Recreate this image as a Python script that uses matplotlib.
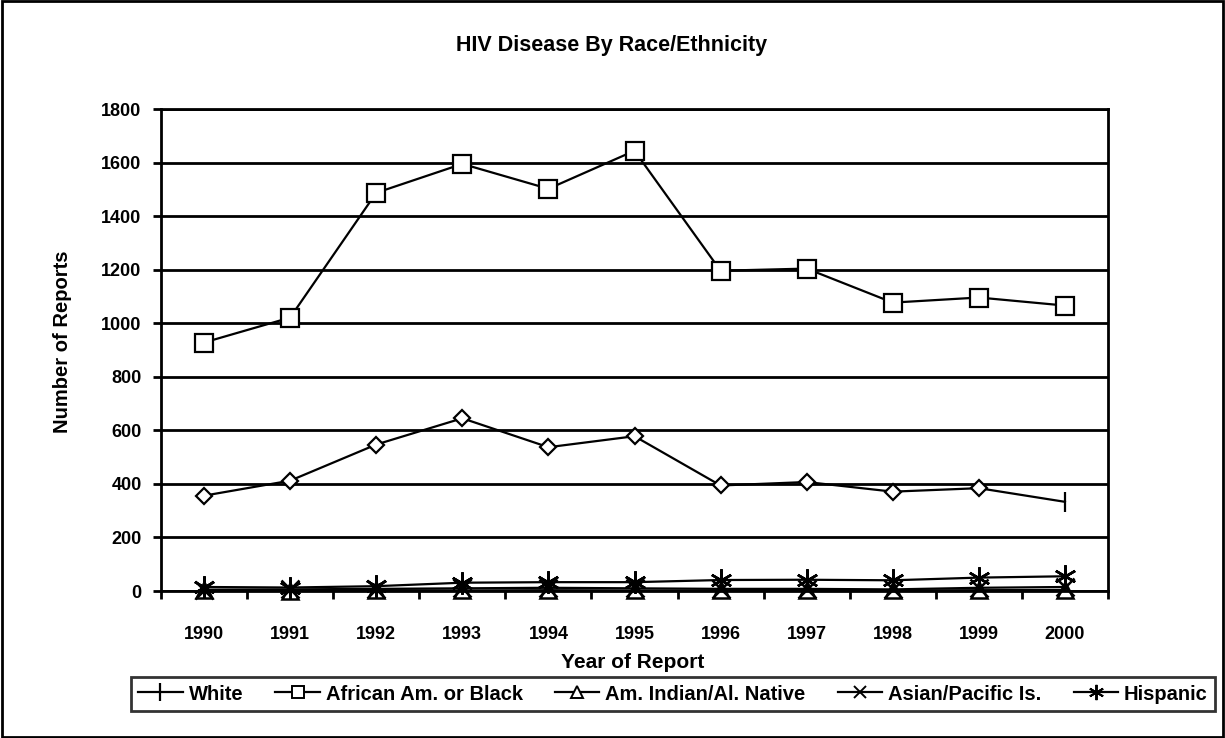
import matplotlib
matplotlib.use("Agg")
import matplotlib.pyplot as plt
from matplotlib.lines import Line2D
from matplotlib.patches import Rectangle
import numpy as np

years = ["1990", "1991", "1992", "1993", "1994", "1995", "1996", "1997", "1998", "1999", "2000"]
white = [356, 412, 547, 645, 537, 578, 394, 407, 371, 384, 333]
black = [928, 1021, 1487, 1595, 1502, 1644, 1196, 1204, 1077, 1096, 1066]
am_indian = [2, 1, 3, 2, 3, 2, 2, 3, 2, 3, 4]
asian = [5, 6, 8, 10, 12, 10, 8, 8, 6, 12, 15]
hispanic = [15, 13, 18, 31, 33, 33, 41, 42, 40, 50, 55]
series_names = ["White", "African Am. or Black", "Am. Indian/Al. Native",
                "Asian/Pacific Is.", "Hispanic"]
yticks = [0, 200, 400, 600, 800, 1000, 1200, 1400, 1600, 1800]

plt.rcParams['font.family'] = ['Liberation Sans', 'DejaVu Sans']
plt.rcParams['font.weight'] = 'bold'

fig = plt.figure(figsize=(12.25, 7.38), dpi=100)
ax = fig.add_axes([161/1225, 1-591/738, (1108-161)/1225, (591-109)/738])

x = np.arange(len(years))
lw = 1.6
ax.set_ylim(0, 1800)
ax.set_xlim(-0.5, len(years)-0.5)
ax.set_yticks(yticks)
ax.yaxis.grid(True, color='black', linewidth=2)
ax.set_axisbelow(True)

ax.plot(x, am_indian, color='black', lw=lw, marker='^', ms=12, mfc='none', mec='black', mew=1.8, clip_on=False)
ax.plot(x, asian, color='black', lw=lw, marker='x', ms=13, mec='black', mew=1.8, clip_on=False)
ax.plot(x, hispanic, color='black', lw=lw, marker=(6, 2, 0), ms=16, mec='black', mew=1.8, clip_on=False)
ax.plot(x, white, color='black', lw=lw, marker='D', ms=8.5, mfc='white', mec='black', mew=1.6,
        markevery=list(range(len(years)-1)))
ax.plot(x[-1:], white[-1:], linestyle='none', marker='|', ms=14, mec='black', mew=1.6)
ax.plot(x, black, color='black', lw=lw, marker='s', ms=13, mfc='white', mec='black', mew=1.6)

for s in ['left', 'right', 'bottom', 'top']:
    ax.spines[s].set_linewidth(2)
    ax.spines[s].set_color('black')

ax.set_xticks(x)
ax.set_xticklabels(years, fontsize=13, fontweight='bold')
ax.set_xticks(np.arange(-0.5, len(years)), minor=True)
ax.tick_params(axis='x', which='major', length=0, pad=25)
ax.tick_params(axis='x', which='minor', length=6, width=2, direction='out')
ax.tick_params(axis='y', length=6, width=2, direction='out', pad=8, labelsize=13)
for t in ax.get_yticklabels():
    t.set_fontweight('bold')

fig.text(62/1225, 1-342/738, "Number of Reports", rotation=90, ha='center', va='center',
         fontsize=14.5, fontweight='bold')
fig.text(633/1225, 1-663/738, "Year of Report", ha='center', va='center', fontsize=15, fontweight='bold')
fig.text(612/1225, 1-45/738, "HIV Disease By Race/Ethnicity", ha='center', va='center',
         fontsize=15.5, fontweight='bold')

handles = [
    Line2D([], [], color='black', lw=1.6, marker='|', ms=13, mew=1.6),
    Line2D([], [], color='black', lw=1.6, marker='s', ms=8, mfc='white', mew=1.4),
    Line2D([], [], color='black', lw=1.6, marker='^', ms=8, mfc='white', mew=1.4),
    Line2D([], [], color='black', lw=1.6, marker='x', ms=9, mew=1.4),
    Line2D([], [], color='black', lw=1.6, marker=(6, 2, 0), ms=11, mew=1.4),
]
leg = fig.legend(handles, series_names, loc='center', ncol=5,
                 bbox_to_anchor=(673/1225, 1-694/738), bbox_transform=fig.transFigure,
                 frameon=True, fancybox=False, edgecolor='black', fontsize=14.5,
                 handlelength=2.2, handletextpad=0.3, columnspacing=1.6, borderpad=0.35)
leg.get_frame().set_linewidth(2)
for t in leg.get_texts():
    t.set_fontweight('bold')

fig.patches.append(Rectangle((0.0015, 0.002), 0.997, 0.996, transform=fig.transFigure,
                             fill=False, edgecolor='black', linewidth=2))

fig.savefig("out.png", dpi=100)
